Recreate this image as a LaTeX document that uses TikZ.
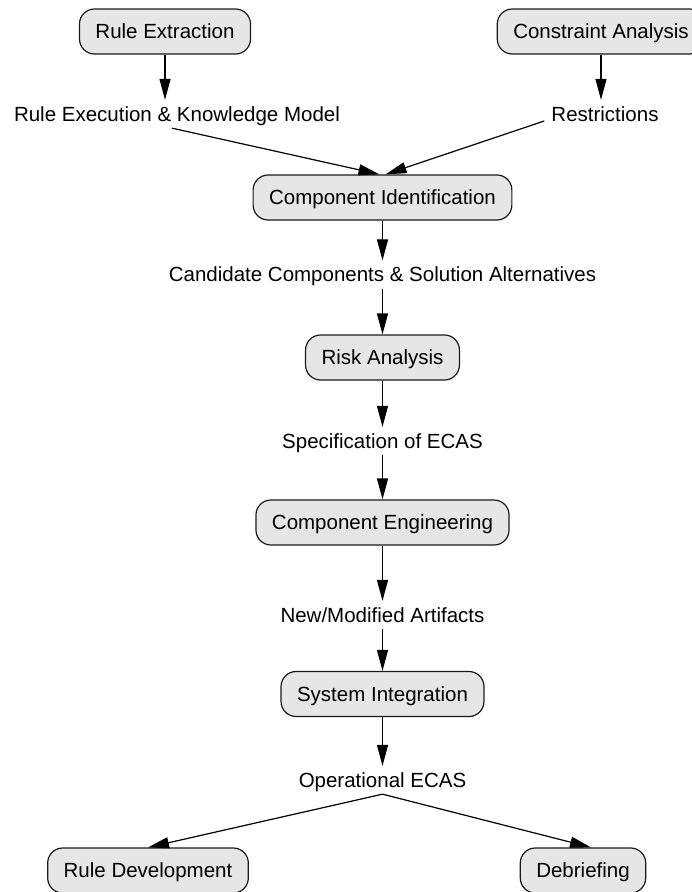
\documentclass[tikz,border=0pt]{standalone}
\usepackage{fontspec}
\setmainfont{Liberation Sans}
\usetikzlibrary{arrows.meta}
\definecolor{boxfill}{HTML}{E6E6E6}
\definecolor{boxline}{HTML}{1A1A1A}
\begin{document}
\begin{tikzpicture}[x=1pt,y=-1pt,
  stage/.style={draw=boxline, fill=boxfill, line width=1.2pt, rounded corners=15pt,
    minimum height=45pt, inner xsep=16pt, text height=14.7pt, text depth=0pt,
    font=\fontsize{20.5}{24}\selectfont},
  product/.style={inner xsep=7pt, inner ysep=6.6pt, text height=14.7pt, text depth=0pt,
    font=\fontsize{20.5}{24}\selectfont},
  flow/.style={draw=black, line width=1.2pt, -{Triangle[length=21pt,width=11pt]}}]
\useasboundingbox (0,0) rectangle (692,892);
\clip (0,0) rectangle (692,892);

% activities
\node[stage] (re) at (165,31.5) {Rule Extraction};
\node[stage] (ca) at (601,31.5) {Constraint Analysis};
\node[stage] (ci) at (382.5,197.5) {Component Identification};
\node[stage] (ra) at (382.5,357.5) {Risk Analysis};
\node[stage] (ce) at (382.5,522.5) {Component Engineering};
\node[stage] (si) at (382.5,694) {System Integration};
\node[stage] (rd) at (148,870.5) {Rule Development};
\node[stage] (db) at (583,870.5) {Debriefing};

% work products
\node[product] (l1) at (177,114) {Rule Execution \& Knowledge Model};
\node[product] (l2) at (605,114) {Restrictions};
\node[product] (l3) at (382.5,274.5) {Candidate Components \& Solution Alternatives};
\node[product] (l4) at (382.5,441) {Specification of ECAS};
\node[product] (l5) at (382.5,615) {New/Modified Artifacts};
\node[product] (l6) at (382.5,780) {Operational ECAS};

% flow of products between activities
\draw[flow] (re.south) -- (re.south |- l1.north);
\draw[flow] (ca.south) -- (ca.south |- l2.north);
\draw[flow] ([xshift=-5pt]l1.south) -- ([xshift=-3pt]ci.north);
\draw[flow] ([yshift=-7pt]l2.west) -- ([xshift=3pt]ci.north);
\draw[flow] (ci.south) -- (l3.north);
\draw[flow] (l3.south) -- (ra.north);
\draw[flow] (ra.south) -- (l4.north);
\draw[flow] (l4.south) -- (ce.north);
\draw[flow] (ce.south) -- (l5.north);
\draw[flow] (l5.south) -- (si.north);
\draw[flow] (si.south) -- (l6.north);
\draw[flow] (l6.south) -- (rd.north);
\draw[flow] (l6.south) -- ([xshift=8pt]db.north);
\end{tikzpicture}
\end{document}
